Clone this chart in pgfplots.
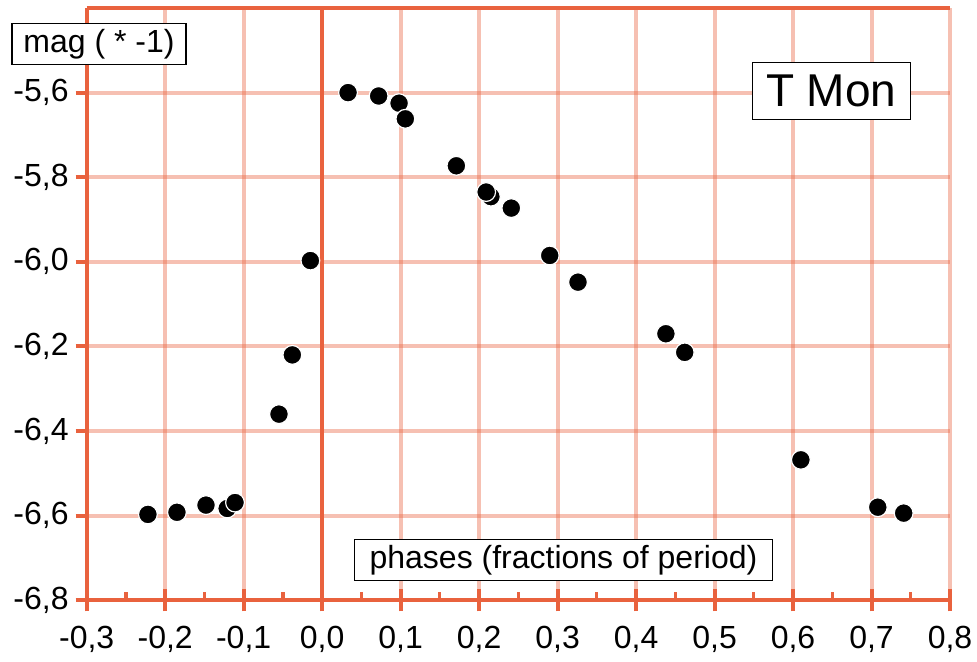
\documentclass[border=0pt]{standalone}
\usepackage{fontspec}
\setmainfont{Liberation Sans}
\usepackage{pgfplots}
\pgfplotsset{compat=1.18}
\definecolor{axisorange}{RGB}{233,98,62}

% phase, magnitude (* -1)
\pgfplotstableread{
phase   mag
-0.222  -6.597
-0.185  -6.592
-0.148  -6.575
-0.121  -6.583
-0.111  -6.569
-0.055  -6.360
-0.038  -6.220
-0.015  -5.997
 0.033  -5.600
 0.072  -5.608
 0.098  -5.625
 0.106  -5.662
 0.171  -5.773
 0.215  -5.846
 0.209  -5.835
 0.241  -5.873
 0.290  -5.985
 0.326  -6.048
 0.438  -6.170
 0.462  -6.214
 0.610  -6.468
 0.708  -6.580
 0.741  -6.594
}\tmon

\begin{document}
\begin{tikzpicture}
\begin{axis}[
    scale only axis, width=431.65pt, height=296.15pt,
    xmin=-0.3, xmax=0.8, ymin=-6.8, ymax=-5.4,
    clip=false,
    axis x line*=bottom, axis y line*=left,
    axis line style={draw=axisorange, line width=2pt, -},
    xtick={-0.3,-0.2,-0.1,0,0.1,0.2,0.3,0.4,0.5,0.6,0.7,0.8},
    ytick={-6.8,-6.6,-6.4,-6.2,-6.0,-5.8,-5.6},
    minor x tick num=1,
    tick align=outside, major tick length=5.5pt, minor tick length=4pt,
    tick style={draw=axisorange, line width=2pt},
    minor tick style={yshift=4pt, line width=1.6pt},
    extra x ticks={-0.3,-0.2,-0.1,0,0.1,0.2,0.3,0.4,0.5,0.6,0.7,0.8},
    extra x tick labels={},
    extra x tick style={tick align=inside, grid=none},
    grid=major,
    grid style={draw=axisorange, draw opacity=0.4, line width=2pt},
    tick label style={font=\fontsize{16}{19}\selectfont, text=black},
    xticklabel style={yshift=-4pt},
    /pgf/number format/assume math mode=true,
    /pgf/number format/use comma,
    /pgf/number format/fixed,
    /pgf/number format/fixed zerofill,
    /pgf/number format/precision=1,
]
\draw[axisorange, line width=2pt] (axis cs:0,-6.8) -- (axis cs:0,-5.4);
\draw[axisorange, line width=2pt] (axis cs:-0.3,-5.4) -- (axis cs:0.8,-5.4);

\addplot[only marks, mark=*, mark size=4.7pt,
         mark options={fill=black, draw=white, line width=0.6pt}]
  table[x=phase, y=mag] {\tmon};

\node[draw=black, fill=white, line width=0.6pt, inner sep=0pt,
      minimum width=87pt, minimum height=20.5pt,
      font=\fontsize{16}{19}\selectfont]
  at (axis cs:-0.2843,-5.486) {mag ( * -1)};
\node[draw=black, fill=white, line width=0.6pt, inner sep=0pt,
      minimum width=78.9pt, minimum height=28.5pt,
      font=\fontsize{23}{27}\selectfont]
  at (axis cs:0.6487,-5.5955) {T Mon};
\node[draw=black, fill=white, line width=0.6pt, inner sep=0pt,
      minimum width=209.2pt, minimum height=20.7pt,
      font=\fontsize{16}{19}\selectfont]
  at (axis cs:0.3075,-6.7047) {phases (fractions of period)};
\end{axis}
\pgfresetboundingbox
\path ([shift={(-43.35pt,-30.85pt)}]current axis.south west)
  rectangle ([shift={(13.5pt,4pt)}]current axis.north east);
\end{tikzpicture}
\end{document}
